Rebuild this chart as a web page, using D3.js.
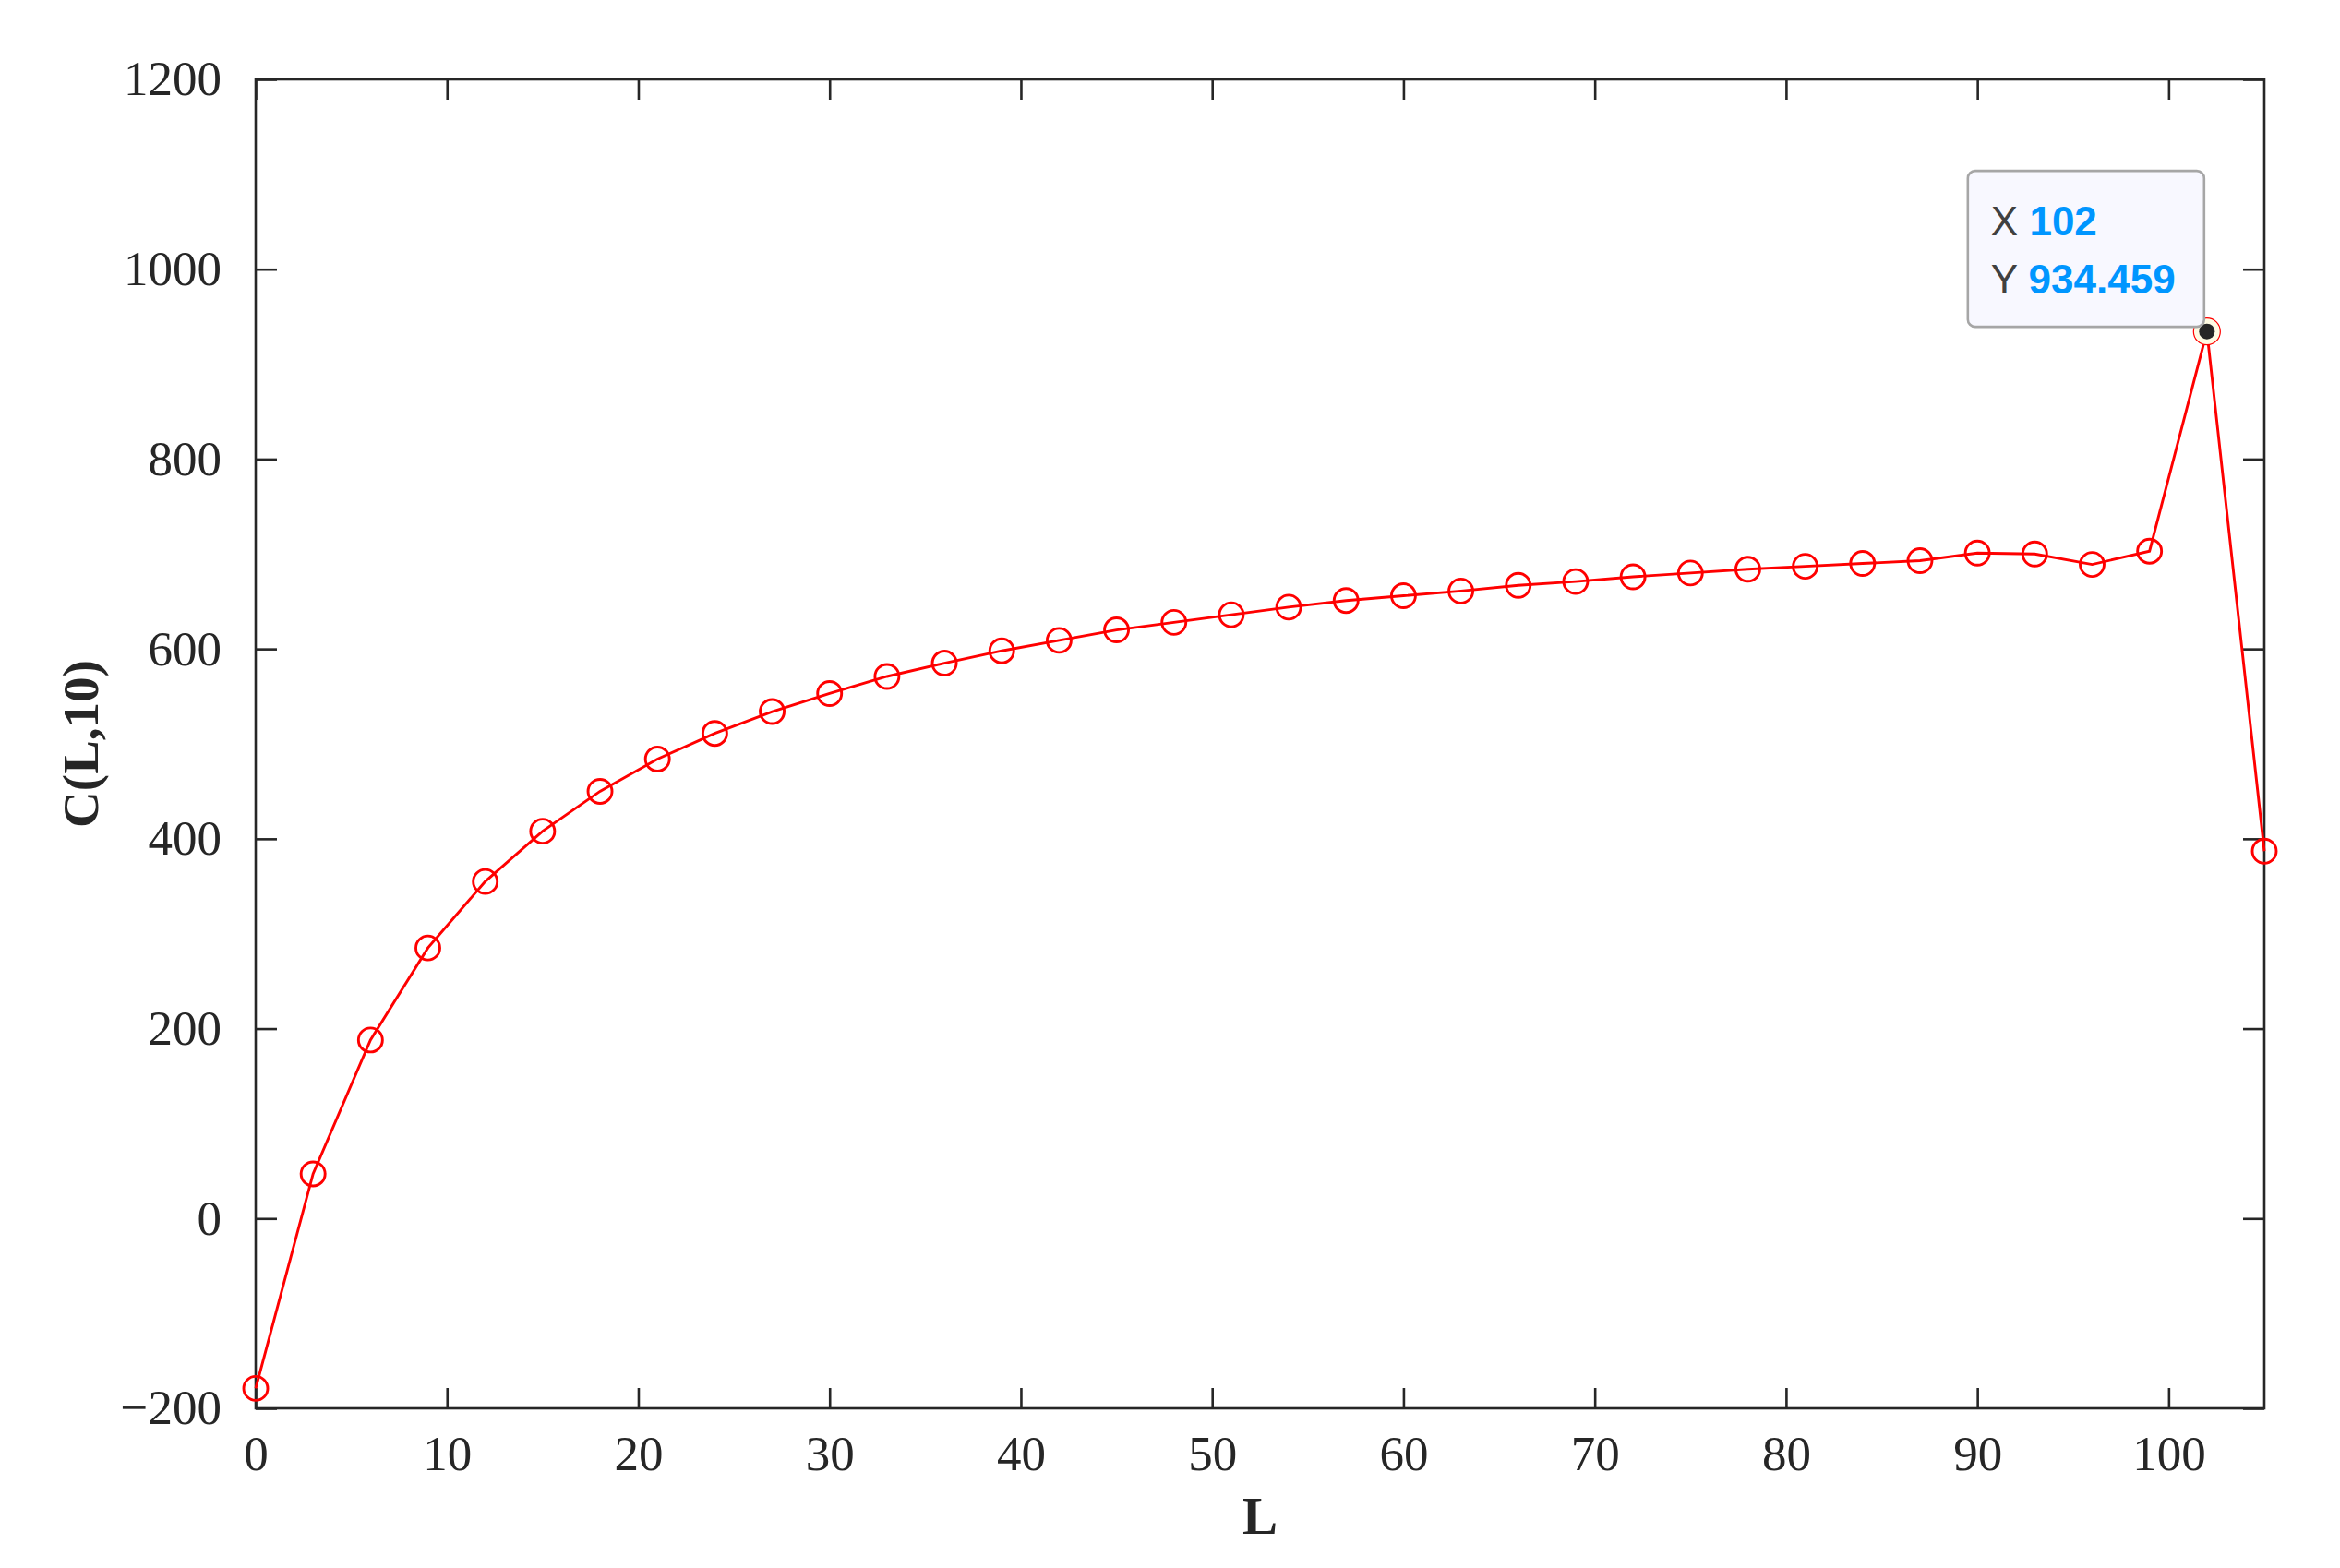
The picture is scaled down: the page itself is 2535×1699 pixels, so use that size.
<!DOCTYPE html>
<html>
<head>
<meta charset="utf-8">
<script src="https://cdn.jsdelivr.net/npm/d3@7"></script>
<style>
  body { margin: 0; background: #fff; }
  .tick text { font-family: "Liberation Serif", "Times New Roman", serif; font-size: 53px; fill: #262626; }
  .axis-title { font-family: "Liberation Serif", "Times New Roman", serif; font-weight: bold; fill: #262626; }
  .tip text { font-family: "Liberation Sans", Arial, sans-serif; font-size: 44px; }
</style>
</head>
<body>
<div id="chart"></div>
<script>
// data
var lValues = [0, 3, 6, 9, 12, 15, 18, 21, 24, 27, 30, 33, 36, 39, 42, 45, 48, 51,
  54, 57, 60, 63, 66, 69, 72, 75, 78, 81, 84, 87, 90, 93, 96, 99, 102, 105];
var cValues = [-179, 47, 188, 285, 355, 408, 450, 484, 511, 534, 553, 571, 585, 598, 609, 620, 628, 636,
  644, 651, 656, 661, 667, 671, 676, 680, 684, 687, 690, 693, 701, 700, 689, 703, 934.459, 387];
var xTicks = [0, 10, 20, 30, 40, 50, 60, 70, 80, 90, 100];
var yTicks = [-200, 0, 200, 400, 600, 800, 1000, 1200];
var tipX = 102;
var tipY = 934.459;

var W = 2535, H = 1699;
var margin = {top: 86, right: 82, bottom: 173, left: 277};
var width = W - margin.left - margin.right;
var height = H - margin.top - margin.bottom;
var axisColor = "#262626";

var svg = d3.select("#chart").append("svg")
  .attr("width", W)
  .attr("height", H)
  .style("background", "#fff");

var g = svg.append("g")
  .attr("transform", "translate(" + margin.left + "," + margin.top + ")");

var x = d3.scaleLinear().domain([0, 105]).range([0, width]);
var y = d3.scaleLinear().domain([-200, 1200]).range([height, 0]);
var fmt = d3.format("d");

// axes, ticks pointing inwards on all four sides
function styleAxis(sel) {
  sel.select(".domain").remove();
  sel.selectAll(".tick line").attr("stroke", axisColor).attr("stroke-width", 2.6);
}

g.append("g")
  .attr("transform", "translate(0," + height + ")")
  .call(d3.axisBottom(x).tickValues(xTicks).tickFormat(fmt).tickSizeInner(-22).tickSizeOuter(0).tickPadding(29))
  .call(styleAxis);

g.append("g")
  .call(d3.axisTop(x).tickValues(xTicks).tickSizeInner(-22).tickSizeOuter(0).tickFormat(""))
  .call(styleAxis);

g.append("g")
  .call(d3.axisLeft(y).tickValues(yTicks).tickFormat(fmt).tickSizeInner(-23).tickSizeOuter(0).tickPadding(37))
  .call(styleAxis);

g.append("g")
  .attr("transform", "translate(" + width + ",0)")
  .call(d3.axisRight(y).tickValues(yTicks).tickSizeInner(-23).tickSizeOuter(0).tickFormat(""))
  .call(styleAxis);

g.selectAll(".tick text").attr("fill", axisColor);

// frame
g.append("rect")
  .attr("width", width)
  .attr("height", height)
  .attr("fill", "none")
  .attr("stroke", axisColor)
  .attr("stroke-width", 2.6);

// axis titles
g.append("text")
  .attr("class", "axis-title")
  .attr("x", width / 2)
  .attr("y", height + 136)
  .attr("text-anchor", "middle")
  .style("font-size", "57px")
  .text("L");

g.append("text")
  .attr("class", "axis-title")
  .attr("transform", "translate(" + (106 - margin.left) + "," + (height / 2) + ") rotate(-90)")
  .attr("text-anchor", "middle")
  .style("font-size", "55px")
  .text("C(L,10)");

// series
var pts = lValues.map(function(d, i) { return [d, cValues[i]]; });

var line = d3.line()
  .x(function(d) { return x(d[0]); })
  .y(function(d) { return y(d[1]); });

g.append("path")
  .datum(pts)
  .attr("fill", "none")
  .attr("stroke", "#ff0000")
  .attr("stroke-width", 2.9)
  .attr("d", line);

g.selectAll(".marker")
  .data(pts)
  .enter().append("circle")
  .attr("class", "marker")
  .attr("cx", function(d) { return x(d[0]); })
  .attr("cy", function(d) { return y(d[1]); })
  .attr("r", 13)
  .attr("fill", "none")
  .attr("stroke", "#ff0000")
  .attr("stroke-width", 2.9);

// data tip
var tx = x(tipX), ty = y(tipY);

g.append("circle")
  .attr("cx", tx).attr("cy", ty).attr("r", 14.5)
  .attr("fill", "#fffbe3")
  .attr("stroke", "#ff0000")
  .attr("stroke-width", 1.2);

g.append("circle")
  .attr("cx", tx).attr("cy", ty).attr("r", 8.5)
  .attr("fill", "#262626");

var tip = g.append("g")
  .attr("class", "tip")
  .attr("transform", "translate(" + (tx - 259) + "," + (ty - 174) + ")");

tip.append("rect")
  .attr("width", 256)
  .attr("height", 169)
  .attr("rx", 8)
  .attr("fill", "#f8f8ff")
  .attr("stroke", "#a6a6a6")
  .attr("stroke-width", 2.6);

var rows = [["X", tipX], ["Y", tipY]];
rows.forEach(function(r, i) {
  var t = tip.append("text")
    .attr("x", 25)
    .attr("y", 70 + i * 63);
  t.append("tspan").attr("fill", "#404040").text(r[0] + " ");
  t.append("tspan").attr("fill", "#0096ff").attr("font-weight", "bold").text(r[1]);
});
</script>
</body>
</html>
